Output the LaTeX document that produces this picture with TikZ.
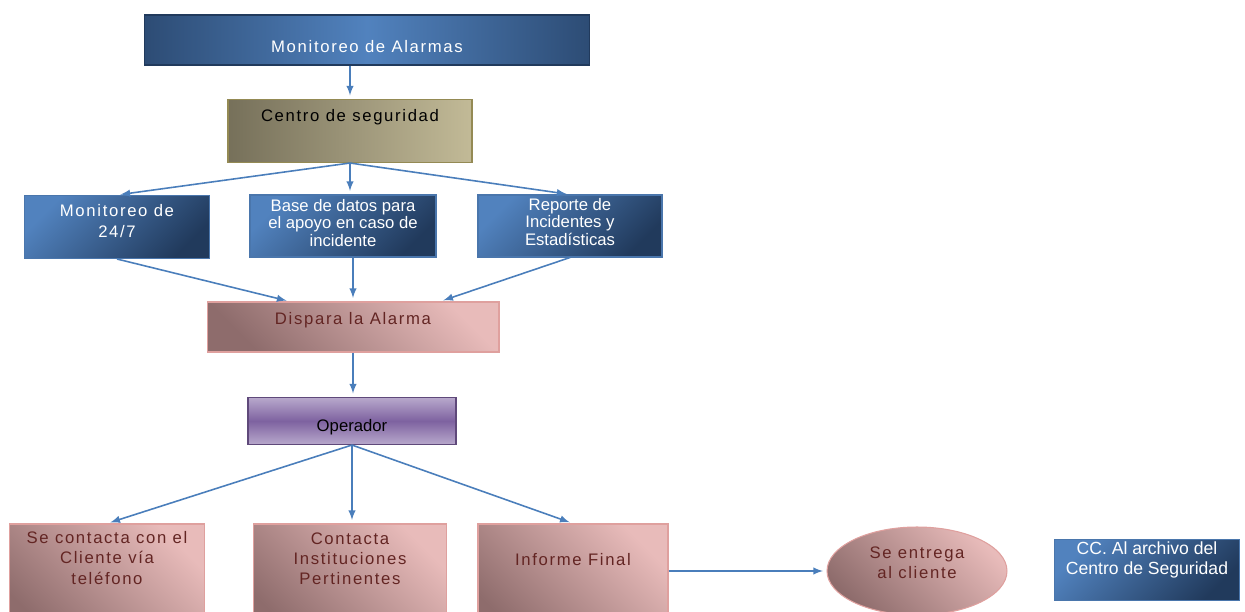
\documentclass[tikz,border=0pt]{standalone}
\usepackage{fontspec}
\setmainfont{Liberation Sans}
\newfontfamily\widefont{Liberation Sans}[LetterSpace=10]
\usetikzlibrary{calc,shapes.geometric}
\definecolor{blueA}{HTML}{5182BE}
\definecolor{blueB}{HTML}{213A5C}
\definecolor{blueline}{HTML}{4A76AC}
\definecolor{khakiA}{HTML}{76705A}
\definecolor{khakiB}{HTML}{C2BA97}
\definecolor{khakiline}{HTML}{948A54}
\definecolor{pinkA}{HTML}{E8BBBA}
\definecolor{pinkB}{HTML}{8E6C6C}
\definecolor{pinkline}{HTML}{DFA09E}
\definecolor{pinktext}{HTML}{632523}
\definecolor{purpleA}{HTML}{B8A8CC}
\definecolor{purpleB}{HTML}{7E62A0}
\definecolor{purpleline}{HTML}{5F497A}
\definecolor{arrowblue}{HTML}{4A7EBB}
\begin{document}
\begin{tikzpicture}[x=0.02cm,y=-0.02cm,
  box/.style={inner sep=0pt,line width=0.6pt},
  bluebox/.style={box,draw=blueline,top color=blueA,bottom color=blueB,shading angle=45},
  pinkbox/.style={box,draw=pinkline,top color=pinkA,bottom color=pinkB,shading angle=-45},
  txt/.style={align=center,inner sep=0pt,font=\fontsize{9.5}{11.5}\selectfont\widefont},
  bluetxt/.style={align=center,inner sep=0pt,text=white,font=\fontsize{9.5}{10}\selectfont},
  arr/.style={-latex,draw=arrowblue,line width=0.9pt,shorten >=2pt}]
\useasboundingbox (0,0) rectangle (1245,612);
\clip (0,0) rectangle (1245,612);

\node[box,draw=blueB,left color=blueB!75!blueA,right color=blueB!75!blueA,middle color=blueA,
  minimum width=8.9cm,minimum height=1cm] (alarmas) at (367,40) {};
\node[txt,text=white] (alarmastxt) at (367,47) {Monitoreo de Alarmas};

\node[box,draw=khakiline,left color=khakiA,right color=khakiB,
  minimum width=4.88cm,minimum height=1.26cm] (centro) at (350,131) {};
\node[txt] (centrotxt) at (350,117) {Centro de seguridad};

\node[bluebox,minimum width=3.7cm,minimum height=1.26cm] (m247) at (117,227) {};
\node[txt,text=white] (m247txt) at (117,221) {Monitoreo de\\24/7};
\node[bluebox,minimum width=3.72cm,minimum height=1.24cm] (base) at (343,226) {};
\node[bluetxt] (basetxt) at (343,223) {Base de datos para\\el apoyo en caso de\\incidente};
\node[bluebox,minimum width=3.68cm,minimum height=1.24cm] (reporte) at (570,226) {};
\node[bluetxt] (reportetxt) at (570,222) {Reporte de\\Incidentes y\\Estadísticas};

\node[pinkbox,minimum width=5.84cm,minimum height=1cm] (dispara) at (353,327) {};
\node[txt,text=pinktext] (disparatxt) at (353,320) {Dispara la Alarma};

\node[box,draw=purpleline,top color=purpleA,bottom color=purpleA,middle color=purpleB,
  minimum width=4.16cm,minimum height=0.94cm] (operador) at (352,421) {};
\node[bluetxt,text=black] (operadortxt) at (352,427) {Operador};

\node[pinkbox,minimum width=3.9cm,minimum height=2.32cm] (cliente) at (107,582) {};
\node[txt,text=pinktext] (clientetxt) at (107,558) {Se contacta con el\\Cliente vía\\teléfono};
\node[pinkbox,minimum width=3.86cm,minimum height=2.32cm] (instit) at (350,582) {};
\node[txt,text=pinktext] (instittxt) at (350,559) {Contacta\\Instituciones\\Pertinentes};
\node[pinkbox,minimum width=3.8cm,minimum height=2.32cm] (informe) at (573,582) {};
\node[txt,text=pinktext] (informetxt) at (573,560) {Informe Final};

\node[pinkbox,ellipse,minimum width=3.6cm,minimum height=1.76cm] (entrega) at (917,571) {};
\node[txt,text=pinktext] (entregatxt) at (917,563) {Se entrega\\al cliente};

\node[bluebox,minimum width=3.7cm,minimum height=1.22cm] (cc) at (1147,570) {};
\node[bluetxt,font=\fontsize{10}{11.5}\selectfont] (cctxt) at (1147,560) {CC. Al archivo del\\Centro de Seguridad};

\draw[arr] (centro.north |- alarmas.south) -- (centro.north);
\draw[arr] (centro.south) -- (m247.north);
\draw[arr] (centro.south) -- (centro.south |- base.north);
\draw[arr] (centro.south) -- (reporte.north);
\draw[arr] (m247.south) -- ($(dispara.north)+(-63,0)$);
\draw[arr] (dispara.north |- base.south) -- (dispara.north);
\draw[arr] (reporte.south) -- ($(dispara.north)+(87,0)$);
\draw[arr] (dispara.south) -- (dispara.south |- operador.north);
\draw[arr] (operador.south) -- (cliente.north);
\draw[arr] (operador.south) -- (operador.south |- instit.north);
\draw[arr] (operador.south) -- (informe.north);
\draw[arr] (informe.east |- entrega.west) -- (entrega.west);
\end{tikzpicture}
\end{document}
